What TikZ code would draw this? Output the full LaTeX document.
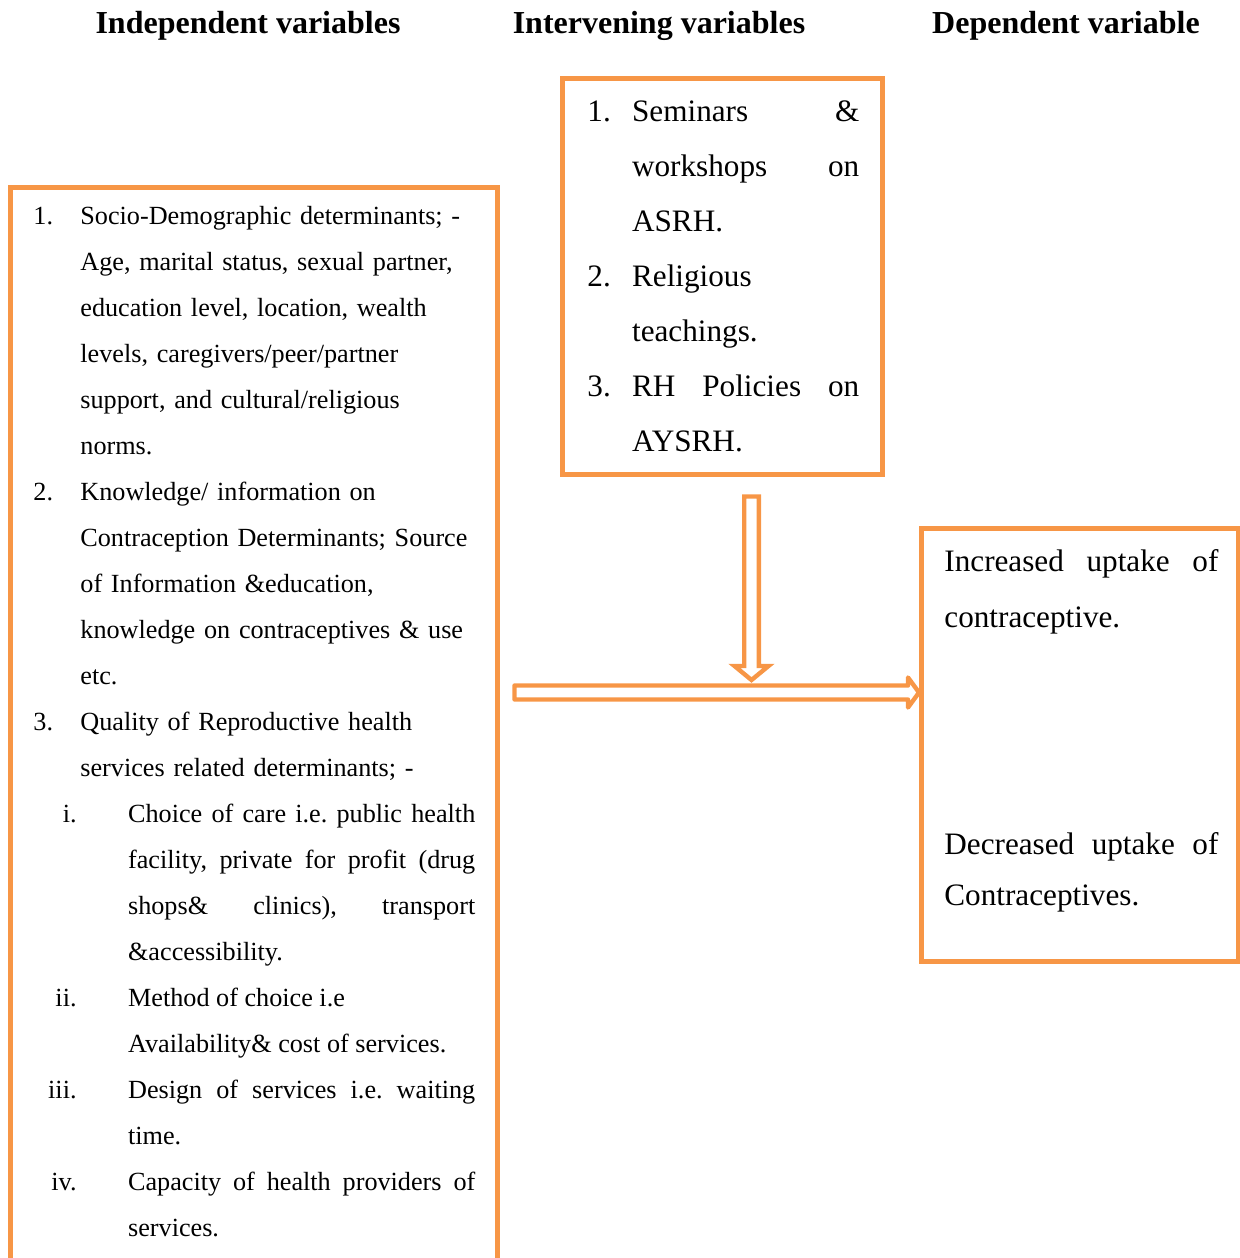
\documentclass[tikz,border=0pt]{standalone}
\usepackage{fontspec}
\setmainfont{Liberation Serif}
\usetikzlibrary{calc}
\definecolor{boxorange}{HTML}{F79646}
\tolerance=9999
\hyphenpenalty=10000
\frenchspacing
\begin{document}
\begin{tikzpicture}[x=0.5pt,y=-0.5pt,
  box/.style={draw=boxorange,line width=2.5pt,inner sep=0pt},
  blockarrow/.style={draw=boxorange,line width=2.2pt},
  heading/.style={font=\fontsize{16pt}{18pt}\selectfont\bfseries,anchor=base},
  lefttext/.style={font=\fontsize{13.1pt}{23pt}\selectfont,inner sep=0pt},
  midtext/.style={font=\fontsize{15.6pt}{27.5pt}\selectfont,inner sep=0pt},
  deptext/.style={font=\fontsize{15.6pt}{28pt}\selectfont,inner sep=0pt,anchor=base west,text width=137pt,align=justify}]
\useasboundingbox (0,0) rectangle (1240,1258);
\clip (0,0) rectangle (1240,1258);
% headings
\node[heading] (hindep) at (248,33) {Independent variables};
\node[heading] (hinterv) at (659,33) {Intervening variables};
\node[heading] (hdep) at (1066,33) {Dependent variable};
% boxes
\node[box,minimum width=243.5pt,minimum height=556.25pt] (indep) at (253.5,743.75) {};
\node[box,minimum width=160pt,minimum height=198.25pt] (interv) at (722.5,276.25) {};
\node[box,minimum width=158.5pt,minimum height=216.5pt] (dep) at (1080,745) {};
% independent variables
\node[lefttext,anchor=base west] (n1) at (33,224) {1.};
\node[lefttext,anchor=base west,text width=200pt,align=left] (t1) at (80,224) {Socio-Demographic determinants; -\\ Age, marital status, sexual partner,\\ education level, location, wealth\\ levels, caregivers/peer/partner\\ support, and cultural/religious\\ norms.};
\node[lefttext,anchor=base west] (n2) at (33,500) {2.};
\node[lefttext,anchor=base west,text width=200pt,align=left] (t2) at (80,500) {Knowledge/ information on\\ Contraception Determinants; Source\\ of Information \&education,\\ knowledge on contraceptives \& use\\ etc.};
\node[lefttext,anchor=base west] (n3) at (33,730) {3.};
\node[lefttext,anchor=base west,text width=200pt,align=left] (t3) at (80,730) {Quality of Reproductive health\\ services related determinants; -};
\node[lefttext,anchor=base east] (r1) at (77,822) {i.};
\node[lefttext,anchor=base west,text width=173.6pt,align=justify] (u1) at (127.7,822) {Choice of care i.e. public health \linebreak facility, private for profit (drug \linebreak shops\& clinics), transport \linebreak \&accessibility.};
\node[lefttext,anchor=base east] (r2) at (77,1006) {ii.};
\node[lefttext,anchor=base west,text width=173.6pt,align=justify] (u2) at (127.7,1006) {Method of choice i.e\\ Availability\& cost of services.};
\node[lefttext,anchor=base east] (r3) at (77,1098) {iii.};
\node[lefttext,anchor=base west,text width=173.6pt,align=justify] (u3) at (127.7,1098) {Design of services i.e. waiting \linebreak time.};
\node[lefttext,anchor=base east] (r4) at (77,1190) {iv.};
\node[lefttext,anchor=base west,text width=173.6pt,align=justify] (u4) at (127.7,1190) {Capacity of health providers of \linebreak services.};
% intervening variables
\node[midtext,anchor=base west] (m1) at (587,121.7) {1.};
\node[midtext,anchor=base west,text width=113.6pt,align=justify] (s1) at (631.7,121.7) {Seminars \& \linebreak workshops on \linebreak ASRH.};
\node[midtext,anchor=base west] (m2) at (587,286.7) {2.};
\node[midtext,anchor=base west,text width=113.6pt,align=justify] (s2) at (631.7,286.7) {Religious\\ teachings.};
\node[midtext,anchor=base west] (m3) at (587,396.7) {3.};
\node[midtext,anchor=base west,text width=113.6pt,align=justify] (s3) at (631.7,396.7) {RH Policies on \linebreak AYSRH.};
% dependent variable
\node[deptext] (inc) at (944,571.7) {Increased uptake of \linebreak contraceptive.};
\node[deptext,font=\fontsize{15.6pt}{25.5pt}\selectfont] (dec) at (944,854.3) {Decreased uptake of \linebreak Contraceptives.};
% block arrows
\coordinate (hrow) at (0,692.5);
\coordinate (vtop) at ($(interv.south)+(29,19.5)$);
\coordinate (vtip) at ($(vtop |- hrow)+(0,-12.5)$);
\coordinate (hstart) at ($(indep.east |- hrow)+(15,0)$);
\coordinate (htip) at (dep.west |- hrow);
\draw[blockarrow] ($(vtop)+(-7.3,0)$) -- ($(vtop)+(7.3,0)$) -- ($(vtip)+(7.3,-14)$) -- ($(vtip)+(17,-14)$)
  -- (vtip) -- ($(vtip)+(-17,-14)$) -- ($(vtip)+(-7.3,-14)$) -- cycle;
\draw[blockarrow,line join=round] ($(hstart)+(0,-7)$) -- ($(htip)+(-11,-7)$) -- ($(htip)+(-11,-15)$)
  -- (htip) -- ($(htip)+(-11,15)$) -- ($(htip)+(-11,7)$) -- ($(hstart)+(0,7)$) -- cycle;
\end{tikzpicture}
\end{document}
